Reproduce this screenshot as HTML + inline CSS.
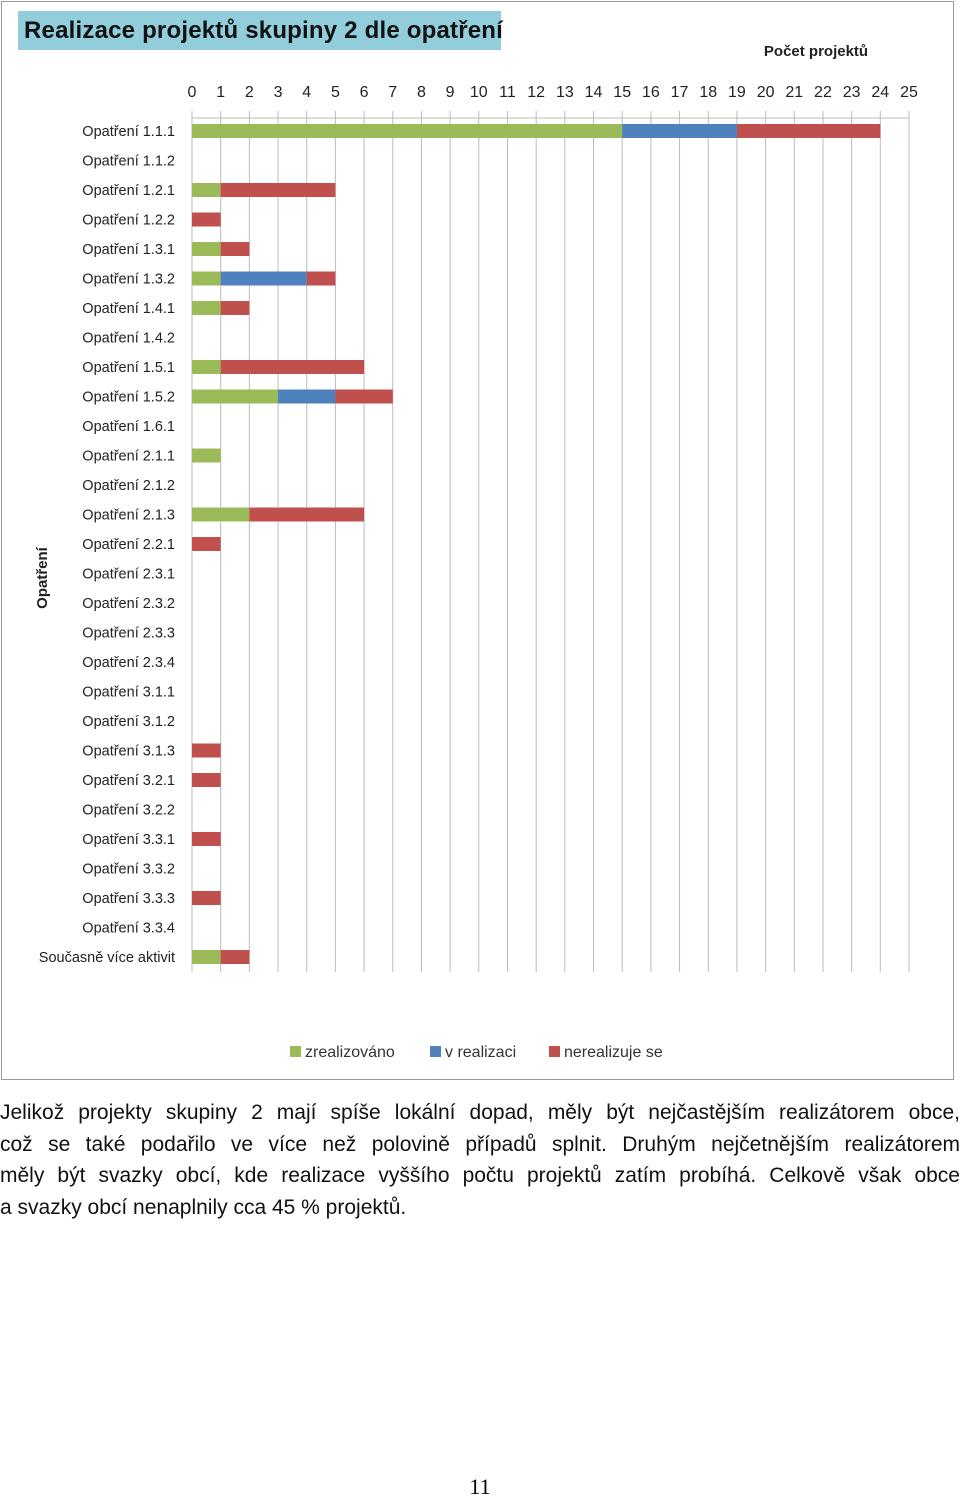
<!DOCTYPE html>
<html><head><meta charset="utf-8">
<style>
body{margin:0;width:960px;height:1497px;background:#fff;position:relative;font-family:"Liberation Sans",sans-serif;overflow:hidden}
#frame{position:absolute;left:1px;top:1px;width:953px;height:1079px;border:1px solid #999;box-sizing:border-box}
#title{position:absolute;left:18px;top:11px;width:483px;height:39px;background:#92CDDC;font-size:24px;font-weight:bold;color:#111;line-height:39px;padding-left:6px;box-sizing:border-box;letter-spacing:0.2px;white-space:nowrap}
#para{position:absolute;left:0;top:1097px;width:960px;font-size:21px;line-height:31.5px;color:#111}
#para .ln{display:block;text-align:justify;text-align-last:justify;white-space:nowrap}
#para .last{display:block;text-align:left}
#pn{position:absolute;left:0;width:960px;top:1474px;text-align:center;font-family:"Liberation Serif",serif;font-size:22px}
</style></head><body>
<div id="frame"></div>
<div id="title">Realizace projektů skupiny 2 dle opatření</div>
<svg id="chart" width="960" height="1090" style="position:absolute;left:0;top:0" font-family="Liberation Sans, sans-serif"></svg>
<div id="para"><span class="ln">Jelikož projekty skupiny 2 mají spíše lokální dopad, měly být nejčastějším realizátorem obce,</span><span class="ln">což se také podařilo ve více než polovině případů splnit. Druhým nejčetnějším realizátorem</span><span class="ln">měly být svazky obcí, kde realizace vyššího počtu projektů zatím probíhá. Celkově však obce</span><span class="last">a svazky obcí nenaplnily cca 45 % projektů.</span></div>
<div id="pn">11</div>
<script>
const categories=["Opatření 1.1.1","Opatření 1.1.2","Opatření 1.2.1","Opatření 1.2.2","Opatření 1.3.1","Opatření 1.3.2","Opatření 1.4.1","Opatření 1.4.2","Opatření 1.5.1","Opatření 1.5.2","Opatření 1.6.1","Opatření 2.1.1","Opatření 2.1.2","Opatření 2.1.3","Opatření 2.2.1","Opatření 2.3.1","Opatření 2.3.2","Opatření 2.3.3","Opatření 2.3.4","Opatření 3.1.1","Opatření 3.1.2","Opatření 3.1.3","Opatření 3.2.1","Opatření 3.2.2","Opatření 3.3.1","Opatření 3.3.2","Opatření 3.3.3","Opatření 3.3.4","Současně více aktivit"];
const realized=[15,0,1,0,1,1,1,0,1,3,0,1,0,2,0,0,0,0,0,0,0,0,0,0,0,0,0,0,1];
const inProgress=[4,0,0,0,0,3,0,0,0,2,0,0,0,0,0,0,0,0,0,0,0,0,0,0,0,0,0,0,0];
const notRealized=[5,0,4,1,1,1,1,0,5,2,0,0,0,4,1,0,0,0,0,0,0,1,1,0,1,0,1,0,1];
const ticks=[0,1,2,3,4,5,6,7,8,9,10,11,12,13,14,15,16,17,18,19,20,21,22,23,24,25];
const seriesNames=["zrealizováno","v realizaci","nerealizuje se"];
const colors=["#9BBB59","#4F81BD","#C0504D"];
const svg=document.getElementById('chart');const NS="http://www.w3.org/2000/svg";
const x0=192,x1=909,xMax=25,yTop=111,yBot=972,rowY0=131,rowStep=29.5,barH=14;
const X=v=>x0+(x1-x0)*v/xMax;const Y=i=>rowY0+i*rowStep;
function mk(t,a,txt){const e=document.createElementNS(NS,t);for(const k in a)e.setAttribute(k,a[k]);if(txt!=null)e.textContent=txt;svg.appendChild(e);return e;}
ticks.forEach(t=>{
 const g=mk('line',{x1:X(t),x2:X(t),y1:yTop,y2:yBot,stroke:'#bbb','stroke-width':1});
 
 
 const l=mk('text',{x:X(t),y:97,'text-anchor':'middle','font-size':16,fill:'#222'},t);
 
 
});
const ax=mk('line',{x1:x0,x2:x1,y1:118,y2:118,stroke:'#bbb'});


const at=mk('text',{x:816,y:56,'text-anchor':'middle','font-size':15,'font-weight':'bold',fill:'#222'},'Počet projektů');


const yt=mk('text',{x:0,y:0,'text-anchor':'middle','font-size':15,'font-weight':'bold',fill:'#222',transform:'translate(47,578) rotate(-90)'},'Opatření');


categories.forEach((c,i)=>{
 const l=mk('text',{x:175,y:Y(i)+5,'text-anchor':'end','font-size':14.5,fill:'#222'},c);
 
 
 let acc=0;[realized,inProgress,notRealized].forEach((s,k)=>{
  const v=s[i];if(v>0){const r=mk('rect',{x:X(acc),y:Y(i)-barH/2,width:X(acc+v)-X(acc),height:barH,fill:colors[k]});
  
  }
  acc+=v;});
});
const lx=[290,430,549];
seriesNames.forEach((n,k)=>{
 const r=mk('rect',{x:lx[k],y:1046,width:11,height:11,fill:colors[k]});
 
 
 const t=mk('text',{x:lx[k]+15,y:1057,'font-size':16,fill:'#333'},n);
 
 
});
</script>
</body></html>
